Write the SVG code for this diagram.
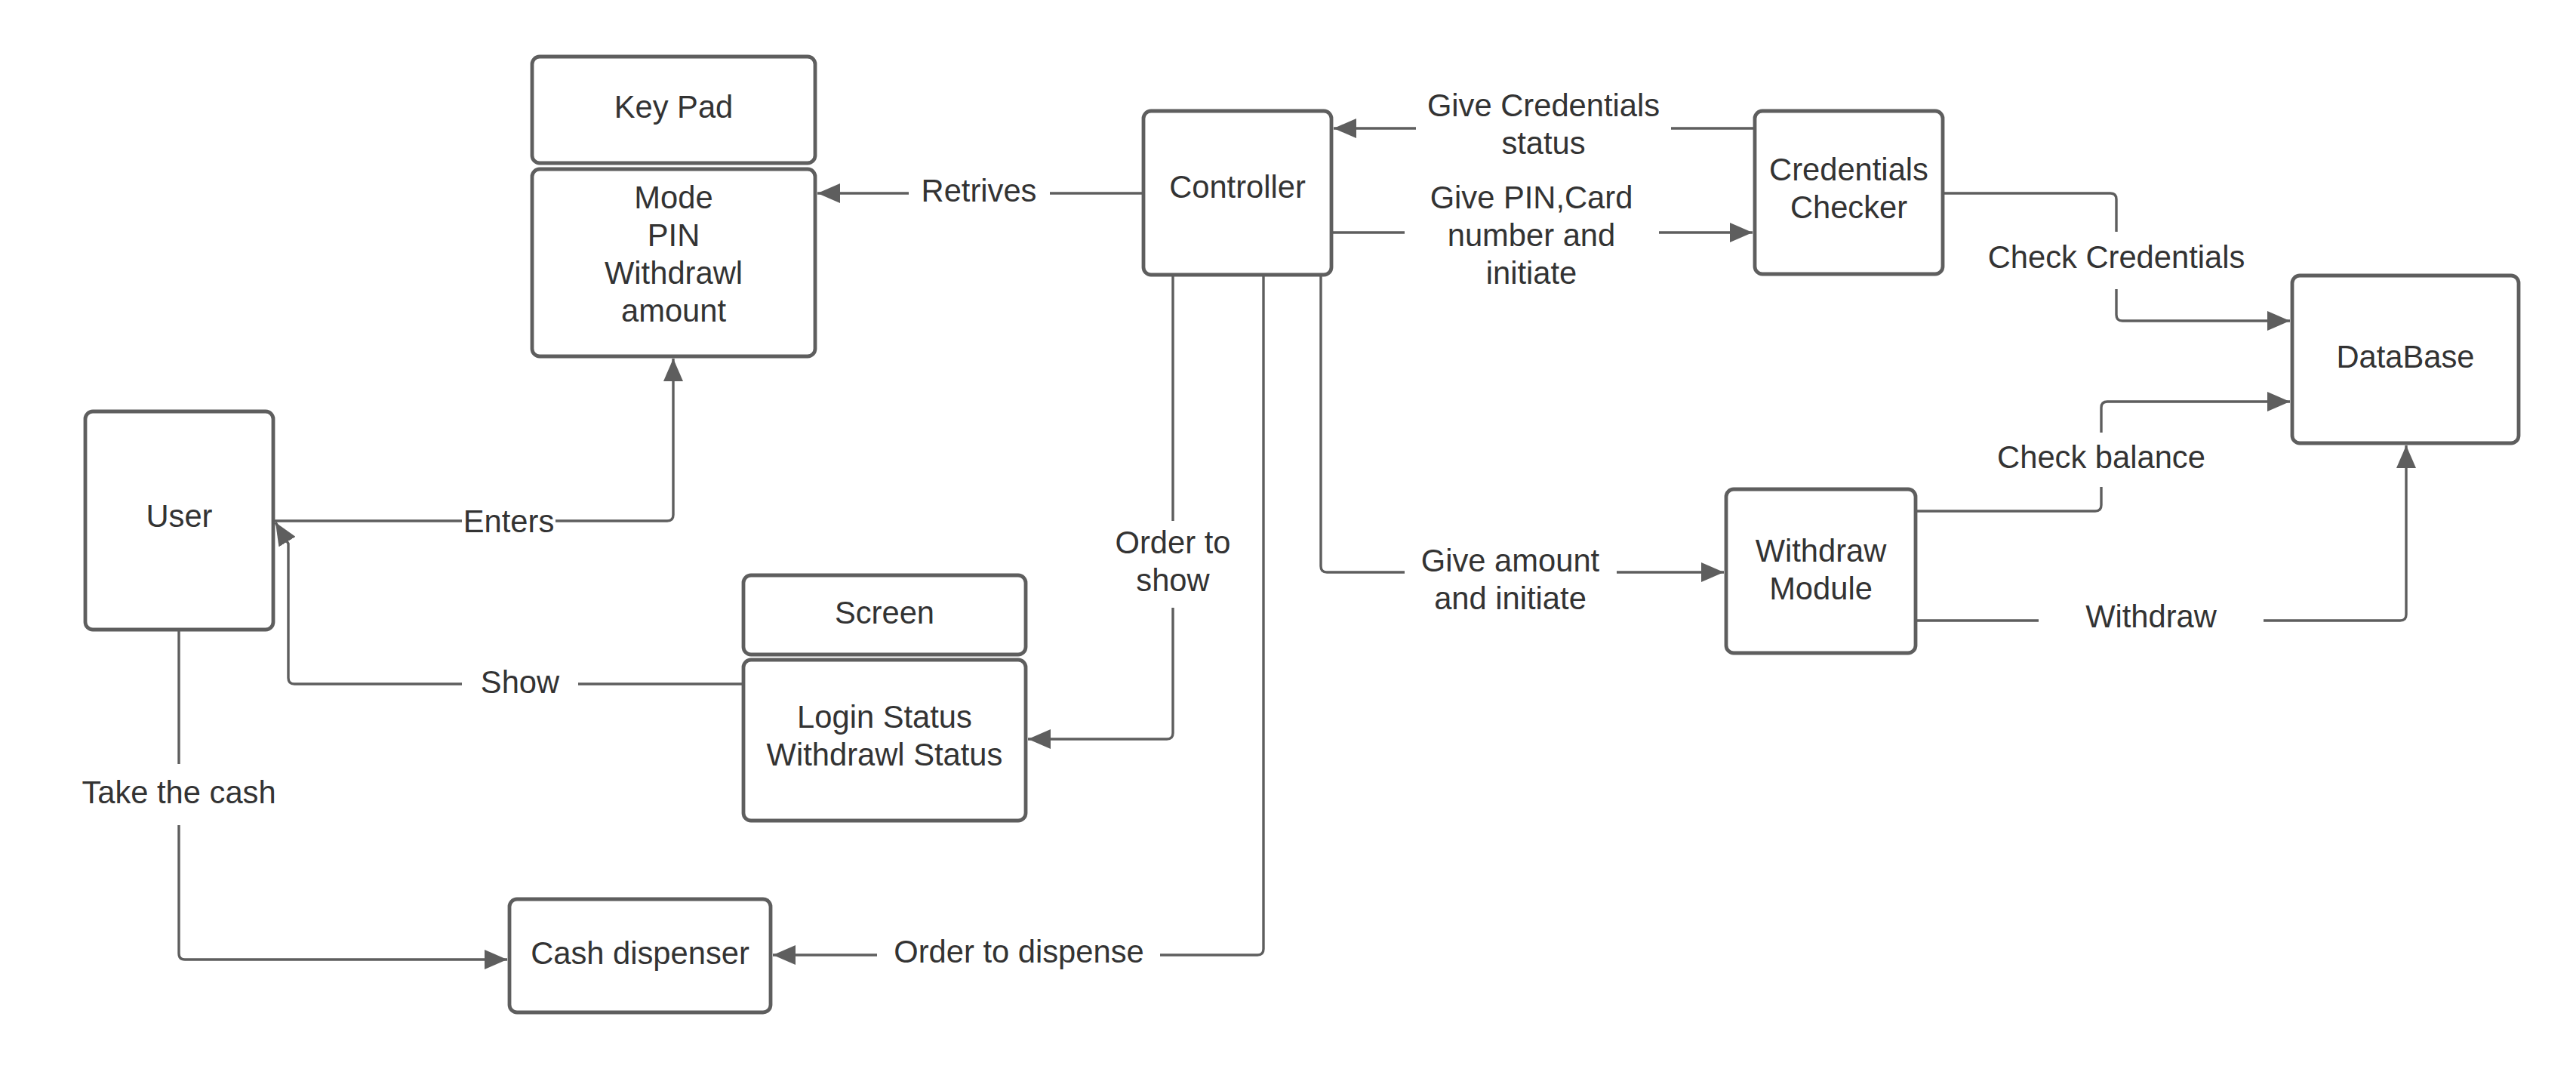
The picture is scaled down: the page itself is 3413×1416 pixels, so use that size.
<svg xmlns="http://www.w3.org/2000/svg" width="3413" height="1416" viewBox="0 0 3413 1416">
<style>
.box{fill:#fff;stroke:#5e5e5e;stroke-width:4.8}
.t{font-family:"Liberation Sans",Arial,sans-serif;font-size:41.7px;fill:#333;text-anchor:middle}
.c{fill:none;stroke:#5e5e5e;stroke-width:3.4}
.bg{fill:#fff}
</style>
<defs>
<marker id="ah" markerUnits="userSpaceOnUse" markerWidth="32" markerHeight="26" refX="30" refY="13" orient="auto">
<path d="M0,0 L30,13 L0,26 z" fill="#5e5e5e"/>
</marker>
</defs>
<rect width="3413" height="1416" fill="#fff"/>
<g id="connectors">
<path class="c" d="M1515,256 H1083" marker-end="url(#ah)"/>
<path class="c" d="M2325,170 H1767" marker-end="url(#ah)"/>
<path class="c" d="M1764,308 H2322" marker-end="url(#ah)"/>
<path class="c" d="M2574,256 H2796 Q2804,256 2804,264 V417 Q2804,425 2812,425 H3034" marker-end="url(#ah)"/>
<path class="c" d="M2538,677 H2776 Q2784,677 2784,669 V540 Q2784,532 2792,532 H3034" marker-end="url(#ah)"/>
<path class="c" d="M2538,822 H3180 Q3188,822 3188,814 V590" marker-end="url(#ah)"/>
<path class="c" d="M1750,364 V750 Q1750,758 1758,758 H2284" marker-end="url(#ah)"/>
<path class="c" d="M1554,364 V971 Q1554,979 1546,979 H1362" marker-end="url(#ah)"/>
<path class="c" d="M1674,364 V1257 Q1674,1265 1666,1265 H1024" marker-end="url(#ah)"/>
<path class="c" d="M362,690 H884 Q892,690 892,682 V475" marker-end="url(#ah)"/>
<path class="c" d="M985,906 H390 Q382,906 382,898 V720 L365,692" marker-end="url(#ah)"/>
<path class="c" d="M237,834 V1263 Q237,1271 245,1271 H672" marker-end="url(#ah)"/>
<g id="labels">
<rect class="bg" x="1204" y="232" width="187" height="48"/>
<text class="t" x="1297" y="267">Retrives</text>
<rect class="bg" x="1876" y="122" width="338" height="95"/>
<text class="t" x="2045" y="154">Give Credentials</text>
<text class="t" x="2045" y="204">status</text>
<rect class="bg" x="1861" y="240" width="337" height="150"/>
<text class="t" x="2029" y="276">Give PIN,Card</text>
<text class="t" x="2029" y="326">number and</text>
<text class="t" x="2029" y="376">initiate</text>
<rect class="bg" x="2640" y="307" width="328" height="76"/>
<text class="t" x="2804" y="355">Check Credentials</text>
<rect class="bg" x="2650" y="573" width="268" height="72"/>
<text class="t" x="2784" y="620">Check balance</text>
<rect class="bg" x="2701" y="798" width="298" height="48"/>
<text class="t" x="2850" y="831">Withdraw</text>
<rect class="bg" x="1861" y="720" width="281" height="105"/>
<text class="t" x="2001" y="757">Give amount</text>
<text class="t" x="2001" y="807">and initiate</text>
<rect class="bg" x="1490" y="690" width="128" height="115"/>
<text class="t" x="1554" y="733">Order to</text>
<text class="t" x="1554" y="783">show</text>
<rect class="bg" x="1162" y="1242" width="375" height="46"/>
<text class="t" x="1350" y="1275">Order to dispense</text>
<rect class="bg" x="612" y="668" width="124" height="46"/>
<text class="t" x="674" y="705">Enters</text>
<rect class="bg" x="612" y="884" width="154" height="46"/>
<text class="t" x="689" y="918">Show</text>
<rect class="bg" x="110" y="1012" width="254" height="81"/>
<text class="t" x="237" y="1064">Take the cash</text>
</g>
</g>
<g id="keypad">
<rect class="box" x="705" y="75" width="375" height="141" rx="10"/>
<text class="t" x="892.5" y="156">Key Pad</text>
</g>
<g id="keypad-fields">
<rect class="box" x="705" y="224" width="375" height="248" rx="10"/>
<text class="t" x="892.5" y="276">Mode</text>
<text class="t" x="892.5" y="326">PIN</text>
<text class="t" x="892.5" y="376">Withdrawl</text>
<text class="t" x="892.5" y="426">amount</text>
</g>
<g id="controller">
<rect class="box" x="1515" y="147" width="249" height="217" rx="10"/>
<text class="t" x="1639.5" y="262">Controller</text>
</g>
<g id="credentials-checker">
<rect class="box" x="2325" y="147" width="249" height="216" rx="10"/>
<text class="t" x="2449.5" y="239">Credentials</text>
<text class="t" x="2449.5" y="289">Checker</text>
</g>
<g id="database">
<rect class="box" x="3037" y="365" width="300" height="222" rx="10"/>
<text class="t" x="3187" y="487">DataBase</text>
</g>
<g id="user">
<rect class="box" x="113" y="545" width="249" height="289" rx="10"/>
<text class="t" x="237.5" y="698">User</text>
</g>
<g id="screen">
<rect class="box" x="985" y="762" width="374" height="105" rx="10"/>
<text class="t" x="1172" y="826">Screen</text>
</g>
<g id="screen-fields">
<rect class="box" x="985" y="874" width="374" height="213" rx="10"/>
<text class="t" x="1172" y="964">Login Status</text>
<text class="t" x="1172" y="1014">Withdrawl Status</text>
</g>
<g id="withdraw-module">
<rect class="box" x="2287" y="648" width="251" height="217" rx="10"/>
<text class="t" x="2412.5" y="744">Withdraw</text>
<text class="t" x="2412.5" y="794">Module</text>
</g>
<g id="cash-dispenser">
<rect class="box" x="675" y="1191" width="346" height="150" rx="10"/>
<text class="t" x="848" y="1277">Cash dispenser</text>
</g>
</svg>
